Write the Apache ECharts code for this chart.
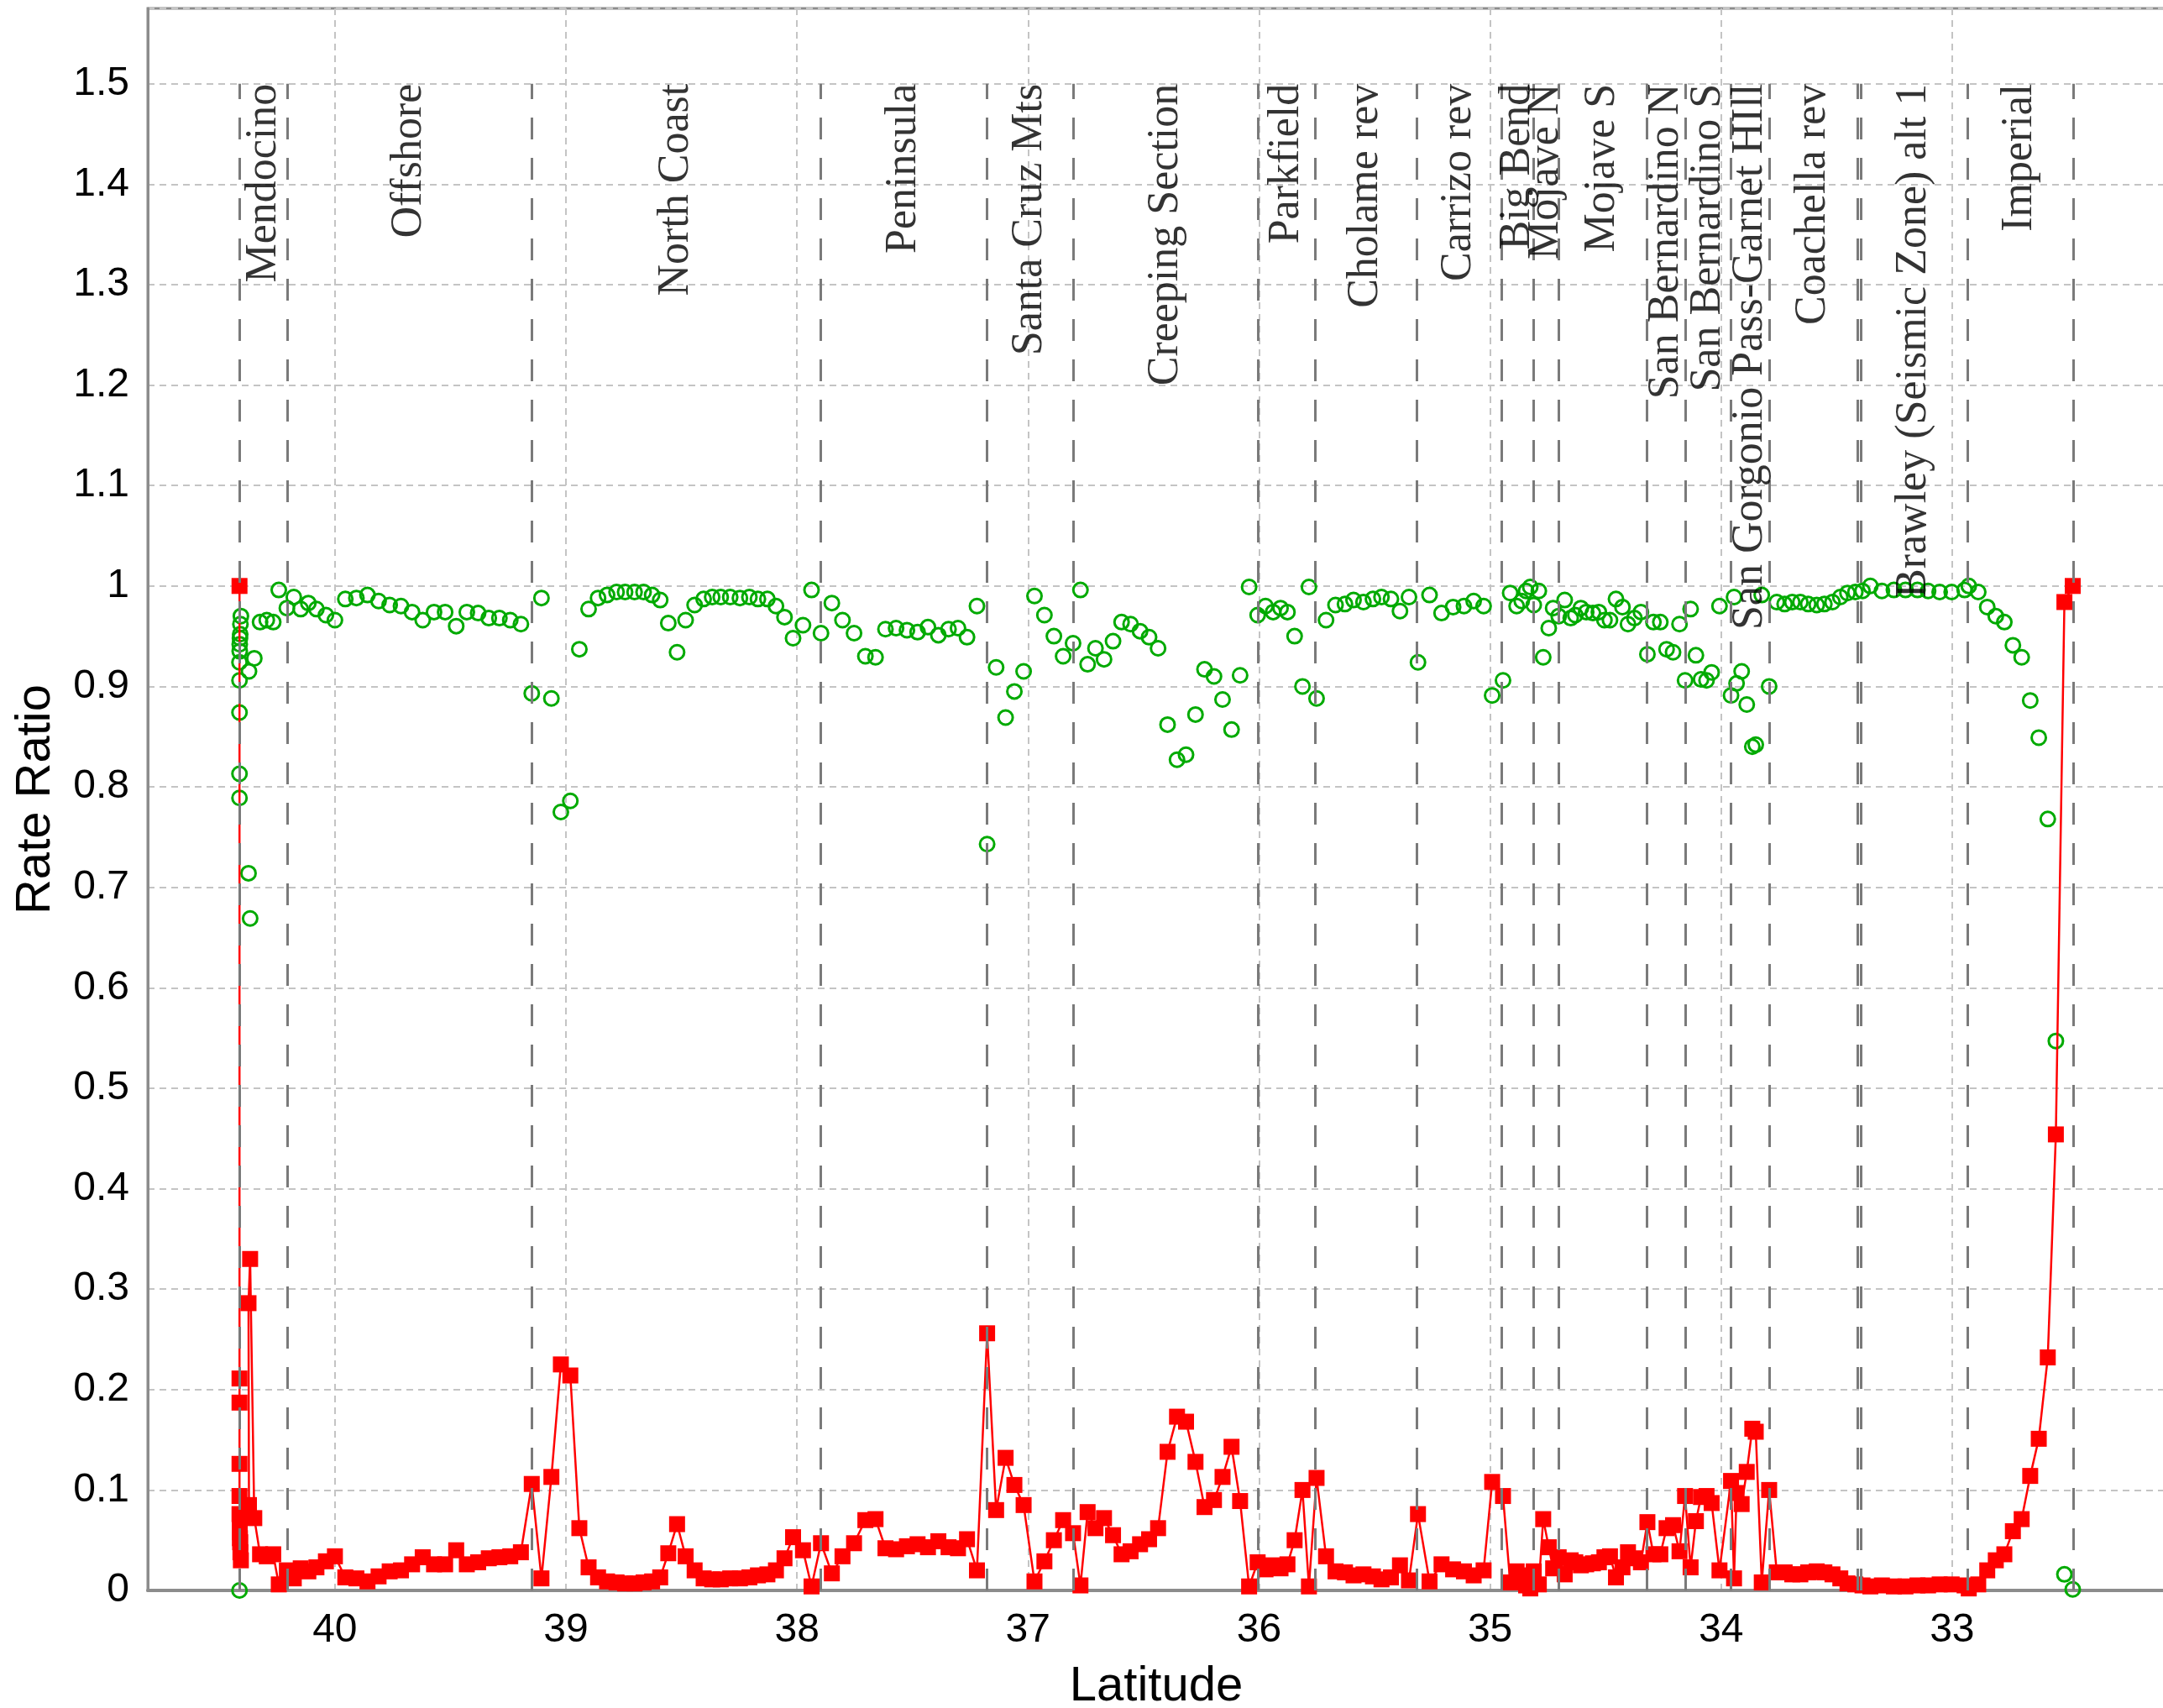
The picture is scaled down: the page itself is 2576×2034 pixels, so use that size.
<!DOCTYPE html>
<html><head><meta charset="utf-8">
<script src="https://cdn.jsdelivr.net/npm/echarts@6/dist/echarts.min.js"></script>
<style>html,body{margin:0;padding:0;background:#fff}#c{width:2576px;height:2034px}</style>
</head><body><div id="c"></div>
<script>
// Latitude of each fault sub-section (x)
const lat = [40.413,40.413,40.413,40.413,40.413,40.413,40.412,40.412,40.411,40.410,40.409,40.407,40.372,40.374,40.367,40.349,40.324,40.295,40.267,
40.243,40.208,40.178,40.148,40.115,40.080,40.039,40.000,39.955,39.907,39.859,39.811,39.763,39.714,39.666,39.620,39.571,39.523,39.475,39.429,39.380,39.334,39.288,39.241,39.195,
39.148,39.106,39.063,39.022,38.981,38.942,38.902,38.861,38.822,38.781,38.744,38.703,38.664,38.627,38.592,38.557,38.519,38.482,38.443,38.404,38.367,38.330,38.289,38.247,38.206,38.169,38.128,38.091,38.054,38.017,37.974,37.937,
37.896,37.849,37.803,37.753,37.704,37.660,37.617,37.571,37.524,37.478,37.433,37.388,37.344,37.303,37.264,37.221,
37.177,37.138,37.097,37.059,37.019,36.972,36.929,36.888,36.848,36.805,
36.773,36.742,36.708,36.671,36.632,36.595,36.556,36.515,36.476,36.437,36.396,36.355,36.316,36.275,36.236,36.195,36.158,36.119,36.082,36.043,
36.006,35.972,35.939,35.907,35.877,35.846,35.812,35.784,35.751,
35.710,35.669,35.628,35.591,35.548,35.507,35.470,35.429,35.390,35.351,
35.312,35.262,35.210,35.160,35.113,35.071,35.028,34.991,34.944,
34.913,34.885,34.863,34.844,34.826,34.811,34.789,
34.770,34.746,34.727,34.703,
34.677,34.651,34.631,34.607,34.584,34.555,34.529,34.505,34.481,34.455,34.427,34.403,34.375,34.347,
34.319,34.293,34.263,34.236,34.208,34.180,
34.156,34.132,34.109,34.087,34.063,34.041,34.007,
33.957,33.944,33.933,33.911,33.889,33.865,33.850,33.824,33.792,
33.759,33.725,33.692,33.657,33.623,33.586,33.553,33.518,33.484,33.453,33.419,
33.388,33.354,33.304,33.252,33.202,33.150,33.104,33.054,33.002,32.946,
32.928,32.887,32.848,32.811,32.774,32.737,32.699,32.662,32.625,32.586,32.551,32.514,32.478];

// Red squares (line)
const ratioRed = [1.000,0.211,0.187,0.126,0.094,0.076,0.065,0.058,0.052,0.048,0.038,0.030,0.085,0.286,0.330,0.072,0.036,0.034,0.036,
0.006,0.020,0.012,0.022,0.019,0.023,0.029,0.034,0.013,0.012,0.009,0.014,0.019,0.020,0.026,0.033,0.026,0.026,0.040,0.026,0.028,0.032,0.033,0.034,0.038,
0.106,0.012,0.113,0.225,0.214,0.062,0.023,0.013,0.009,0.008,0.007,0.007,0.008,0.009,0.013,0.037,0.066,0.034,0.020,0.012,0.011,0.011,0.012,0.012,0.013,0.015,0.016,0.020,0.032,0.053,0.040,0.004,
0.047,0.017,0.034,0.047,0.070,0.071,0.042,0.041,0.044,0.046,0.043,0.049,0.043,0.042,0.051,0.020,
0.256,0.080,0.132,0.105,0.085,0.009,0.029,0.050,0.070,0.057,
0.005,0.078,0.062,0.072,0.055,0.036,0.039,0.046,0.051,0.062,0.138,0.173,0.168,0.128,0.083,0.090,0.113,0.143,0.089,0.004,
0.028,0.021,0.025,0.022,0.026,0.050,0.100,0.004,0.112,
0.034,0.019,0.018,0.015,0.016,0.014,0.011,0.013,0.025,0.010,
0.076,0.009,0.026,0.021,0.019,0.015,0.020,0.108,0.094,
0.008,0.019,0.015,0.005,0.002,0.019,0.006,
0.071,0.043,0.022,0.033,
0.016,0.030,0.028,0.025,0.026,0.027,0.028,0.033,0.034,0.013,0.023,0.038,0.032,0.028,
0.068,0.036,0.036,0.062,0.065,0.039,
0.094,0.023,0.069,0.093,0.094,0.087,0.020,
0.109,0.012,0.097,0.086,0.118,0.161,0.158,0.008,0.100,
0.018,0.018,0.016,0.016,0.018,0.019,0.018,0.016,0.012,0.007,0.006,
0.005,0.004,0.005,0.004,0.004,0.005,0.005,0.006,0.006,0.005,
0.002,0.006,0.020,0.030,0.036,0.059,0.071,0.114,0.151,0.232,0.454,0.984,1.000];

// Green open circles
const ratioGreen = [0.000,0.789,0.813,0.874,0.906,0.924,0.935,0.942,0.948,0.952,0.962,0.970,0.915,0.714,0.669,0.928,0.964,0.966,0.964,
0.996,0.978,0.989,0.977,0.983,0.977,0.971,0.966,0.987,0.988,0.991,0.985,0.981,0.980,0.974,0.966,0.974,0.974,0.960,0.974,0.973,0.968,0.968,0.966,0.962,
0.893,0.988,0.888,0.775,0.786,0.937,0.977,0.988,0.991,0.994,0.994,0.994,0.994,0.991,0.986,0.963,0.934,0.966,0.981,0.987,0.989,0.989,0.989,0.988,0.989,0.987,0.987,0.980,0.969,0.948,0.961,0.996,
0.953,0.983,0.966,0.953,0.930,0.929,0.957,0.958,0.956,0.954,0.959,0.951,0.957,0.958,0.949,0.980,
0.743,0.919,0.869,0.895,0.915,0.990,0.971,0.950,0.930,0.943,
0.996,0.922,0.938,0.927,0.945,0.964,0.962,0.955,0.949,0.938,0.862,0.827,0.832,0.872,0.917,0.910,0.887,0.857,0.911,0.999,
0.971,0.980,0.974,0.978,0.974,0.950,0.900,0.999,0.888,
0.966,0.981,0.982,0.986,0.984,0.987,0.989,0.987,0.975,0.989,
0.924,0.991,0.973,0.979,0.980,0.985,0.980,0.891,0.906,
0.993,0.980,0.985,0.995,0.999,0.981,0.995,
0.929,0.958,0.978,0.970,
0.986,0.968,0.971,0.978,0.974,0.973,0.974,0.966,0.966,0.987,0.979,0.962,0.968,0.974,
0.932,0.964,0.964,0.937,0.934,0.962,
0.906,0.977,0.931,0.907,0.906,0.914,0.980,
0.891,0.989,0.903,0.915,0.882,0.840,0.842,0.991,0.900,
0.984,0.982,0.984,0.984,0.982,0.981,0.982,0.984,0.989,0.993,0.994,
0.995,1.000,0.995,0.996,0.996,0.996,0.995,0.994,0.994,0.996,
1.000,0.994,0.979,0.970,0.964,0.941,0.929,0.886,0.849,0.768,0.547,0.016,0.001];

// Fault regions
const regionNames = ['Mendocino','Offshore','North Coast','Peninsula','Santa Cruz Mts','Creeping Section','Parkfield','Cholame rev','Carrizo rev','Big Bend','Mojave N','Mojave S','San Bernardino N','San Bernardino S','San Gorgonio Pass-Garnet HIll','Coachella rev','Brawley (Seismic Zone) alt 1','Imperial'];
const regionNorth = [40.412,40.206,39.148,37.899,37.178,36.805,36.004,35.757,35.319,34.951,34.813,34.704,34.323,34.155,33.959,33.792,33.396,32.935];
const regionSouth = [40.206,39.148,37.899,37.178,36.805,36.004,35.757,35.319,34.951,34.813,34.704,34.323,34.155,33.959,33.792,33.411,32.935,32.477];

const chart = echarts.init(document.getElementById('c'), null, {renderer: 'canvas'});
const boundaries = Array.from(new Set(regionNorth.concat(regionSouth)));
const gridLine = {show: true, lineStyle: {color: '#c4c4c4', width: 2, type: [8, 6]}};

const option = {
  animation: false,
  backgroundColor: '#ffffff',
  grid: {left: 176, right: -2, top: 10, bottom: 140, containLabel: false, outerBoundsMode: 'none',
    show: true, borderColor: '#8c8c8c', borderWidth: 3, backgroundColor: 'transparent'},
  xAxis: {
    type: 'value', inverse: true, min: 32.08, max: 40.81, splitNumber: 9,
    name: 'Latitude', nameLocation: 'middle', nameGap: 86,
    nameTextStyle: {fontFamily: 'Liberation Sans', fontSize: 58, color: '#000'},
    axisLine: {show: true, onZero: false, lineStyle: {color: '#8c8c8c', width: 4}},
    axisTick: {show: false},
    axisLabel: {fontFamily: 'Liberation Sans', fontSize: 48, color: '#000', margin: 24,
      showMinLabel: false, showMaxLabel: false,
      formatter: v => Math.abs(v - Math.round(v)) < 1e-6 ? String(Math.round(v)) : ''},
    splitLine: gridLine
  },
  yAxis: {
    type: 'value', min: 0, max: 1.575, interval: 0.1,
    name: 'Rate Ratio', nameLocation: 'middle', nameGap: 104, nameRotate: 90,
    nameTextStyle: {fontFamily: 'Liberation Sans', fontSize: 58, color: '#000'},
    axisLine: {show: true, lineStyle: {color: '#8c8c8c', width: 3}},
    axisTick: {show: false},
    axisLabel: {fontFamily: 'Liberation Sans', fontSize: 48, color: '#000', margin: 22,
      showMaxLabel: false,
      formatter: v => v > 1.55 ? '' : String(parseFloat(v.toFixed(1)))},
    splitLine: gridLine
  },
  series: [
    {
      type: 'line', z: 1, silent: true, data: [], symbol: 'none',
      markLine: {
        silent: true, symbol: ['none', 'none'], animation: false,
        label: {show: false},
        lineStyle: {color: '#7a7a7a', width: 3, type: [26, 22]},
        data: boundaries.map(b => [{coord: [b, 0]}, {coord: [b, 1.5]}])
      }
    },
    {
      name: 'green', type: 'scatter', z: 2,
      symbol: 'circle', symbolSize: 17,
      itemStyle: {color: 'rgba(0,0,0,0)', borderColor: '#00aa00', borderWidth: 3, opacity: 1},
      data: lat.map((x, i) => [x, ratioGreen[i]])
    },
    {
      name: 'red', type: 'line', z: 3,
      symbol: 'rect', symbolSize: 19, showAllSymbol: true,
      lineStyle: {color: '#ff0000', width: 2.5},
      itemStyle: {color: '#ff0000'},
      data: lat.map((x, i) => [x, ratioRed[i]])
    },
    {
      type: 'scatter', z: 10, silent: true,
      symbolSize: 1, itemStyle: {color: 'rgba(0,0,0,0)'},
      label: {
        show: true, position: 'inside', rotate: 90, align: 'right', verticalAlign: 'middle',
        formatter: '{b}', fontFamily: 'Liberation Serif', fontSize: 52, color: '#000'
      },
      data: regionNames.map((n, i) => ({name: n, value: [(regionNorth[i] + regionSouth[i]) / 2, 1.5]}))
    }
  ]
};
chart.setOption(option);
</script>
</body></html>
